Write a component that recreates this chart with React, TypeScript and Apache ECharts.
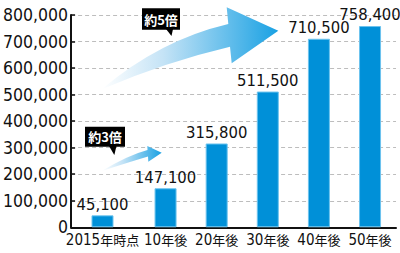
import React, { useEffect, useRef } from 'react';
import * as echarts from 'echarts';

const categories = ['2015年時点', '10年後', '20年後', '30年後', '40年後', '50年後'];
const values = [45100, 147100, 315800, 511500, 710500, 758400];
const yMin = 0;
const yMax = 800000;
const yInterval = 100000;
const calloutTexts = ['約5倍', '約3倍'];

const NARROW = "'Liberation Sans Narrow', 'DejaVu Sans Condensed', 'Noto Sans CJK JP', sans-serif";
const CJK = "'Noto Sans CJK JP', sans-serif";

const fmt = (n: number) => n.toLocaleString('en-US');

const BIG_ARROW =
  'M101.7,89.3 Q160,40 228.3,24 L226.7,7.3 L278.3,30.7 L231.7,63.3 L230,46.7 Q165,62 101.7,89.3 Z';
const SMALL_ARROW =
  'M101.7,171 Q128.8,154.9 147.5,150 L147.3,146 L161.7,152.7 L148.3,161.7 L148,156.5 Q128.6,162.3 101.7,171 Z';

function labelRich(s: string) {
  const m = s.match(/^(\d+)(.*)$/);
  if (!m) return s;
  return `{d|${m[1]}}{c|${m[2]}}`;
}

export default function App() {
  const ref = useRef<HTMLDivElement>(null);
  useEffect(() => {
    if (!ref.current) return;
    echarts.graphic.registerShape('bigArrow', echarts.graphic.extendPath(BIG_ARROW, {}) as any);
    echarts.graphic.registerShape('smallArrow', echarts.graphic.extendPath(SMALL_ARROW, {}) as any);
    const chart = echarts.init(ref.current, undefined, { renderer: 'svg' });

    const grad = () =>
      new echarts.graphic.LinearGradient(0, 0, 1, 0, [
        { offset: 0, color: '#ffffff' },
        { offset: 0.35, color: '#c4e3f6' },
        { offset: 1, color: '#19a1e3' },
      ]);

    const rich = {
      d: { fontSize: 15, fontFamily: NARROW, color: '#111' },
      c: { fontSize: 13, fontFamily: CJK, color: '#111' },
    };
    const xLabel = {
      margin: 5,
      interval: 0,
      formatter: (v: string) => labelRich(v),
      rich,
    };
    const barLabel = {
      show: true,
      position: 'top',
      distance: 3,
      fontSize: 16.5,
      fontFamily: NARROW,
      color: '#111',
      formatter: (p: any) => fmt(p.value),
    };
    const barStyle = { color: '#0090d8', borderColor: '#6cc3ee', borderWidth: 1 };
    const top = 15;
    const bottom = 25.7;

    const option: any = {
      animation: false,
      grid: [
        { left: 63, right: 4, top, bottom },
        { left: 140, right: 4.4, top, bottom },
        { left: 63, right: 258, top, bottom },
      ],
      xAxis: [
        {
          gridIndex: 0,
          type: 'category',
          data: [''],
          axisLine: { show: true, lineStyle: { color: '#111', width: 2 } },
          axisTick: { show: false },
          axisLabel: { show: false },
        },
        {
          gridIndex: 1,
          type: 'category',
          data: categories.slice(1),
          axisLine: { show: false },
          axisTick: { show: false },
          axisLabel: xLabel,
        },
        {
          gridIndex: 2,
          type: 'category',
          data: categories.slice(0, 1),
          axisLine: { show: false },
          axisTick: { show: false },
          axisLabel: xLabel,
        },
      ],
      yAxis: [
        {
          gridIndex: 0,
          type: 'value',
          min: yMin,
          max: yMax,
          interval: yInterval,
          axisLine: { show: true, lineStyle: { color: '#111', width: 2 } },
          axisTick: { show: true, inside: true, length: 4, lineStyle: { color: '#111', width: 1.5 } },
          axisLabel: { fontSize: 17.5, lineHeight: 14, fontFamily: NARROW, color: '#111', margin: 3, formatter: (v: number) => fmt(v) },
          splitLine: { show: true, lineStyle: { color: '#bdbdbd', width: 1, type: [4, 3] } },
        },
        { gridIndex: 1, type: 'value', min: yMin, max: yMax, show: false, splitLine: { show: false } },
        { gridIndex: 2, type: 'value', min: yMin, max: yMax, show: false, splitLine: { show: false } },
      ],
      series: [
        {
          type: 'bar',
          xAxisIndex: 1,
          yAxisIndex: 1,
          data: values.slice(1),
          barWidth: 22,
          itemStyle: barStyle,
          label: barLabel,
        },
        {
          type: 'bar',
          xAxisIndex: 2,
          yAxisIndex: 2,
          data: values.slice(0, 1),
          barWidth: 22,
          itemStyle: barStyle,
          label: barLabel,
        },
      ],
      graphic: [
        { type: 'bigArrow', x: 0, y: 0, z: 5, style: { fill: grad() } },
        { type: 'smallArrow', x: 0, y: 0, z: 5, style: { fill: grad() } },
        { type: 'rect', z: 6, shape: { x: 142, y: 8.3, width: 38, height: 21.5 }, style: { fill: '#000' } },
        { type: 'polygon', z: 6, shape: { points: [[166, 29], [173, 29], [171.5, 36]] }, style: { fill: '#000' } },
        {
          type: 'text', z: 7, x: 161, y: 19.2,
          style: { text: calloutTexts[0], fill: '#fff', fontSize: 13, fontWeight: 'bold', fontFamily: CJK, align: 'center', verticalAlign: 'middle' },
        },
        { type: 'rect', z: 6, shape: { x: 85, y: 126.7, width: 40, height: 20 }, style: { fill: '#000' } },
        { type: 'polygon', z: 6, shape: { points: [[109, 146], [116.5, 146], [114.3, 155]] }, style: { fill: '#000' } },
        {
          type: 'text', z: 7, x: 105, y: 136.9,
          style: { text: calloutTexts[1], fill: '#fff', fontSize: 13, fontWeight: 'bold', fontFamily: CJK, align: 'center', verticalAlign: 'middle' },
        },
      ],
    };
    chart.setOption(option);
    return () => chart.dispose();
  }, []);
  return <div ref={ref} style={{ position: 'absolute', left: 0, top: 0, width: 400, height: 253, background: '#fff' }} />;
}
